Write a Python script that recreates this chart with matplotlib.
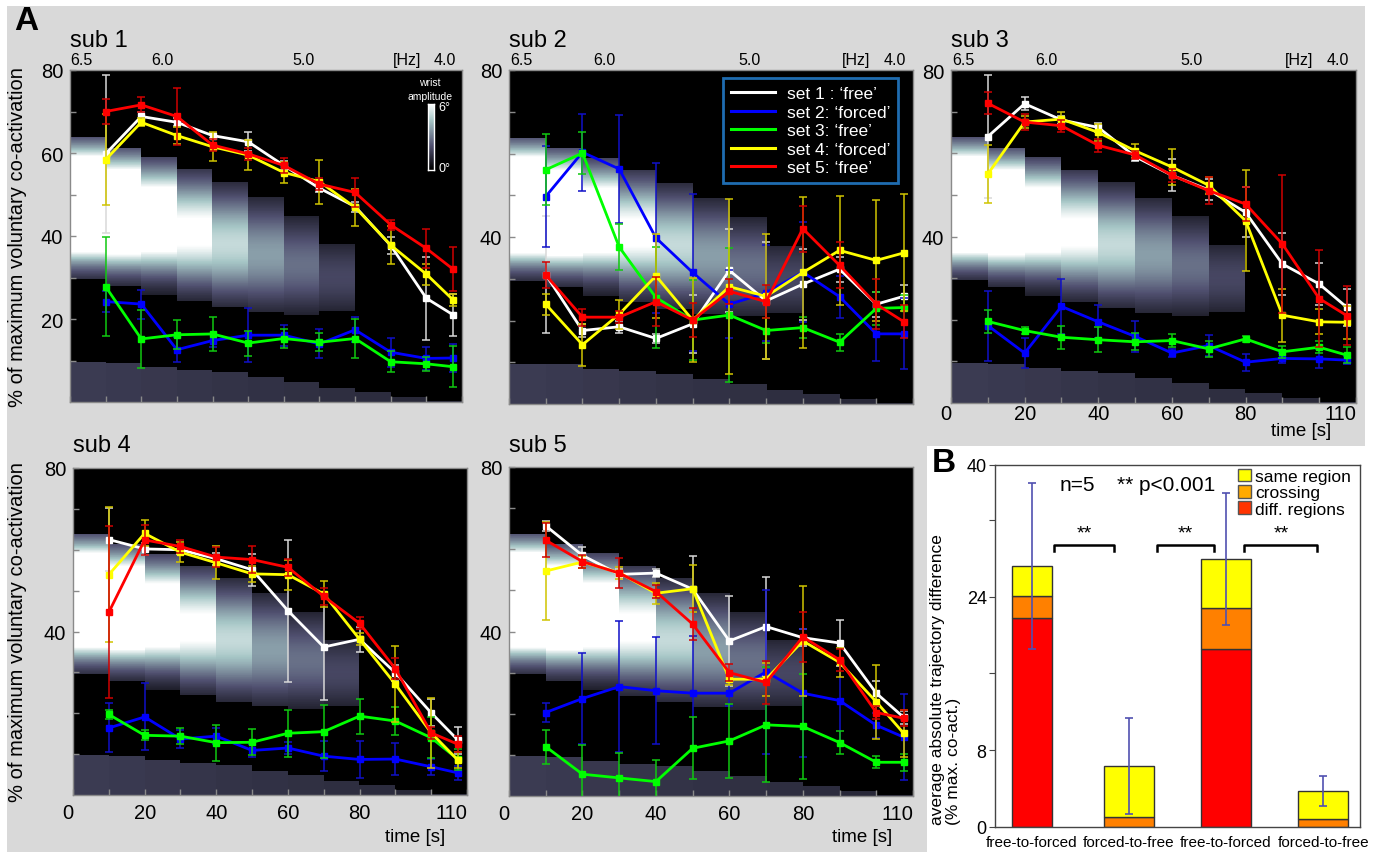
import numpy as np
import matplotlib.pyplot as plt
from matplotlib.patches import Polygon, Patch
from matplotlib.lines import Line2D

plt.rcParams['font.family'] = ['Liberation Sans', 'DejaVu Sans']

# ---------------- data ----------------
t = [10, 20, 30, 40, 50, 60, 70, 80, 90, 100, 107.5]
set_labels = ["set 1 : \u2018free\u2019", "set 2: \u2018forced\u2019", "set 3: \u2018free\u2019",
              "set 4: \u2018forced\u2019", "set 5: \u2018free\u2019"]
set_colors = ['#ffffff', '#0000ff', '#00ff00', '#ffff00', '#ff0000']
err_colors = ['#d8d8d8', '#1010c8', '#10c810', '#d0c400', '#d00000']

# order of rows: set1 white, set2 blue, set3 green, set4 yellow, set5 red
sub1_mean = [[59.8, 68.8, 67.4, 64.2, 62.7, 57.0, 51.5, 47.1, 37.7, 25.0, 21.0],
             [24.2, 23.6, 12.6, 14.8, 16.1, 16.1, 14.0, 17.4, 12.0, 10.5, 10.6],
             [27.8, 15.2, 16.2, 16.4, 14.2, 15.3, 14.4, 15.3, 9.7, 9.2, 8.5],
             [58.4, 67.4, 64.2, 61.5, 59.5, 55.3, 53.1, 46.9, 37.8, 30.8, 24.6],
             [70.0, 71.6, 68.8, 61.9, 59.8, 57.0, 52.5, 50.5, 42.7, 37.0, 32.0]]
sub1_err = [[19, 1, 1, 0.7, 2.3, 1, 1, 1.2, 2, 10, 5],
            [2.6, 3.5, 3, 1.5, 6.5, 2.5, 3.5, 3, 3.5, 2.7, 3.4],
            [12, 7, 3.5, 4, 3, 2.3, 2.2, 4.7, 2.5, 1.7, 4.9],
            [11, 1, 2, 3.5, 3.7, 2.5, 5.3, 4.5, 4.5, 2.5, 1.5],
            [3, 1.8, 6.8, 1.5, 1.5, 1.7, 1.5, 3.5, 1.2, 4.7, 5.3]]

sub2_mean = [[31.0, 17.6, 18.5, 15.7, 19.2, 32.0, 24.7, 28.7, 32.3, 23.9, 25.8],
             [49.7, 60.3, 56.3, 39.8, 31.5, 23.9, 26.6, 31.6, 25.7, 16.8, 16.8],
             [56.1, 60.1, 37.6, 25.5, 20.1, 21.3, 17.6, 18.3, 14.8, 22.9, 23.1],
             [23.9, 14.2, 21.5, 30.7, 20.1, 28.1, 25.8, 31.5, 36.8, 34.4, 36.2],
             [30.9, 20.8, 20.8, 24.5, 20.1, 27.0, 24.5, 42.0, 33.2, 23.9, 19.7]]
sub2_err = [[14, 1.5, 1.5, 1, 7, 10, 14, 8.5, 3, 3, 2.8],
            [12, 9.2, 13, 18, 18.8, 8.2, 11.6, 12, 5, 6.5, 8.5],
            [8.5, 5, 5.4, 12, 9.5, 16, 3, 2.5, 2, 4, 3],
            [2.5, 5, 3.5, 10, 10, 21, 15, 18, 13, 14.5, 14],
            [3, 2, 1.5, 5.8, 4, 3, 4, 5.5, 5.5, 6, 4]]

sub3_mean = [[64.0, 71.9, 68.0, 66.2, 59.2, 54.7, 51.2, 45.8, 33.4, 28.6, 23.0],
             [18.6, 12.0, 23.2, 19.5, 16.0, 12.0, 13.8, 9.8, 10.7, 10.6, 10.3],
             [19.6, 17.4, 15.8, 15.2, 14.7, 15.0, 13.0, 15.4, 12.3, 13.4, 11.5],
             [55.0, 67.5, 68.2, 65.0, 60.6, 56.7, 52.3, 43.8, 21.1, 19.5, 19.4],
             [72.0, 67.5, 66.6, 61.9, 59.6, 54.7, 51.0, 47.8, 38.2, 25.1, 21.0]]
sub3_err = [[14.7, 1.5, 1, 1, 1, 3.8, 2.5, 6, 7.5, 5, 4.5],
            [8.4, 3.7, 6.7, 4, 3.8, 1, 2.5, 2, 1.2, 2.3, 1],
            [2.8, 0.8, 2.8, 3, 2, 1.6, 2, 0.8, 1.5, 1.5, 2],
            [7, 1.5, 1.8, 2, 1.7, 4.4, 2, 12.2, 6.4, 3, 4],
            [2.6, 2, 1.5, 1.5, 1, 1.5, 3.2, 4, 16.6, 11.7, 7]]

sub4_mean = [[62.5, 60.2, 60.0, 57.8, 55.1, 45.1, 36.2, 38.1, 29.9, 20.1, 13.4],
             [16.4, 19.1, 13.7, 14.4, 10.9, 11.5, 9.5, 8.7, 8.8, 6.9, 5.4],
             [19.7, 14.6, 14.4, 12.8, 12.9, 15.1, 15.5, 19.3, 18.1, 14.0, 8.7],
             [53.9, 64.0, 59.4, 56.8, 54.1, 53.9, 49.2, 38.1, 27.1, 15.2, 8.5],
             [44.7, 62.4, 60.8, 58.2, 57.6, 55.7, 48.6, 42.0, 30.9, 15.2, 12.4]]
sub4_err = [[7.7, 1.5, 1, 1.5, 3.9, 17.4, 13, 3, 2, 3.3, 3.3],
            [6, 8.2, 2.3, 2, 1.5, 1.5, 3.6, 4.6, 3.9, 2, 1.8],
            [1.2, 1.2, 2, 4.4, 3.2, 5.8, 6.5, 4.3, 3.5, 5, 2.5],
            [16.5, 3.2, 2.4, 4, 2, 3.7, 3.2, 1.5, 9.3, 8.6, 2],
            [21, 3.7, 1.5, 2.5, 3.2, 2, 2, 1.5, 2.5, 1.5, 2]]

sub5_mean = [[65.7, 58.5, 53.9, 54.2, 50.3, 37.7, 41.2, 38.5, 37.2, 25.0, 19.1],
             [20.3, 23.7, 26.6, 25.6, 25.0, 25.0, 30.2, 25.0, 23.2, 17.2, 14.3],
             [12.0, 5.3, 4.4, 3.5, 11.6, 13.4, 17.3, 16.9, 13.0, 8.2, 8.2],
             [54.7, 56.9, 54.3, 49.3, 50.4, 28.4, 28.4, 37.7, 32.5, 22.9, 15.2],
             [62.2, 57.0, 54.2, 49.7, 41.8, 30.0, 27.6, 38.7, 33.1, 20.3, 18.9]]
sub5_err = [[1.2, 2, 1.2, 1, 8, 11, 12, 2, 5.7, 3, 1.5],
            [2.3, 11, 16, 13, 14, 3, 20, 15.6, 9.9, 3, 10.5],
            [4.1, 7, 6, 5.3, 7.5, 9, 14, 12.8, 2.8, 1.5, 2],
            [12, 1.5, 1.5, 2.5, 5.7, 1.5, 4, 13.4, 3.5, 9, 5.8],
            [4.2, 1.5, 3.6, 1.5, 3.8, 2, 5.2, 6, 2.6, 1.5, 2]]

# wrist amplitude background (one column per 10 s bin)
band_lo = [29.6, 28.0, 25.8, 24.4, 22.9, 21.7, 21.0, 21.9, 0, 0, 0]
band_hi = [63.9, 61.4, 59.0, 56.0, 53.0, 49.4, 44.9, 37.9, 0, 0, 0]
band_mid = [47.7, 45.8, 44.0, 41.0, 38.0, 35.5, 33.0, 30.0, 0, 0, 0]
band_w = [11.3, 11.5, 11.8, 12.5, 12.5, 12.5, 11.5, 10.0, 1, 1, 1]
band_peak = [17.0, 13.2, 9.2, 6.4, 5.0, 3.7, 2.8, 1.9, 0, 0, 0]
floor_hi = [9.7, 9.4, 8.4, 7.8, 7.3, 5.9, 4.8, 3.4, 2.4, 1.2, 0.3]
floor_level = [1.6, 1.55, 1.5, 1.45, 1.4, 1.35, 1.3, 1.25, 1.2, 1.1, 1.0]

freq_labels = ['6.5', '6.0', '5.0', '[Hz]', '4.0']
freq_pos = [0.03, 0.235, 0.595, 0.86, 0.955]

# panel B
bar_labels = ['free-to-forced', 'forced-to-free', 'free-to-forced', 'forced-to-free']
diff_regions = [21.8, 0.0, 18.5, 0.0]
crossing = [2.3, 1.05, 4.3, 0.84]
same_region = [3.1, 5.35, 5.1, 2.92]
bar_err = [8.65, 5.0, 6.9, 1.55]
bracket_spans = [(1.23, 1.845), (2.29, 2.88), (3.19, 3.94)]

# ---------------- figure ----------------
W, H = 1389, 854
fig = plt.figure(figsize=(W / 100, H / 100), dpi=100)
fig.patch.set_facecolor('white')

bg = np.array([(7, 7), (1365, 7), (1365, 447), (927, 447), (927, 853), (7, 853)], float)
bg[:, 0] /= W
bg[:, 1] = 1 - bg[:, 1] / H
fig.patches.append(Polygon(bg, closed=True, transform=fig.transFigure,
                           facecolor='#d9d9d9', edgecolor='none', zorder=-10))

yy = np.linspace(0, 80, 801)
img = np.zeros((len(yy), len(band_lo)))
for c in range(len(band_lo)):
    ins = (yy >= band_lo[c]) & (yy <= band_hi[c])
    img[ins, c] = band_peak[c] * np.exp(-((yy[ins] - band_mid[c]) / band_w[c]) ** 2)
    low = yy <= floor_hi[c]
    img[low, c] = np.maximum(img[low, c], floor_level[c])


def px_axes(l, t_, r, b):
    return fig.add_axes([l / W, 1 - b / H, (r - l) / W, (b - t_) / H])


def draw_sub(ax, means, errs, name, top_row, xlabels, ylabels, xpad, name_y):
    ax.set_facecolor('black')
    ax.imshow(img, extent=(0, 110, 0, 80), origin='lower', aspect='auto', cmap='bone',
              vmin=0, vmax=6, interpolation='nearest', zorder=0)
    for k in range(5):
        ax.errorbar(t, means[k], yerr=errs[k], color=set_colors[k], ecolor=err_colors[k],
                    lw=2, marker='s', ms=5, mec=set_colors[k], elinewidth=1.1,
                    capsize=3, capthick=1.1, zorder=3 + k)
    ax.set_xlim(0, 110)
    ax.set_ylim(0, 80)
    ax.set_yticks(ylabels)
    ax.set_yticks([v for v in range(10, 80, 10) if v not in ylabels], minor=True)
    ax.set_xticks([0, 20, 40, 60, 80, 110])
    ax.set_xticks([10, 30, 50, 70, 90, 100], minor=True)
    ax.tick_params(which='both', direction='in', length=4, color='#8a8a8a', width=1,
                   labelsize=14.5, pad=5)
    ax.tick_params(axis='x', pad=xpad)
    if not xlabels:
        ax.set_xticklabels([])
    else:
        xl = ax.get_xticklabels()
        xl[0].set_ha('right')
        xl[-1].set_ha('right')
    for s in ax.spines.values():
        s.set_color('#8a8a8a')
        s.set_linewidth(1)
    ax.text(0.0, name_y, name, transform=ax.transAxes, ha='left', va='baseline', fontsize=17)
    if top_row:
        for lab, xf in zip(freq_labels, freq_pos):
            ax.text(xf, 1.01, lab, transform=ax.transAxes, ha='center', va='bottom',
                    fontsize=11.5)


ax1 = px_axes(70, 71, 462, 403)
ax2 = px_axes(509, 71, 913, 405)
ax3 = px_axes(951, 71, 1356, 404)
ax4 = px_axes(73, 469, 467, 796)
ax5 = px_axes(509, 468, 913, 797)

draw_sub(ax1, sub1_mean, sub1_err, 'sub 1', True, False, [20, 40, 60, 80], 6, 1.072)
draw_sub(ax2, sub2_mean, sub2_err, 'sub 2', True, False, [40, 80], 6, 1.072)
draw_sub(ax3, sub3_mean, sub3_err, 'sub 3', True, True, [40, 80], 1, 1.072)
draw_sub(ax4, sub4_mean, sub4_err, 'sub 4', False, True, [40, 80], 6, 1.052)
draw_sub(ax5, sub5_mean, sub5_err, 'sub 5', False, True, [40, 80], 6, 1.048)

for ax, lx in [(ax1, -0.11), (ax4, -0.117)]:
    ax.set_ylabel('% of maximum voluntary co-activation', fontsize=14.5)
    ax.yaxis.set_label_coords(lx, 0.5)

for ax, xr, yc in [(ax3, 0.94, -0.084), (ax4, 0.944, -0.128), (ax5, 0.948, -0.122)]:
    ax.text(xr, yc, 'time [s]', transform=ax.transAxes, ha='right', va='center',
            fontsize=13.5)

# colour bar for wrist amplitude
cax = ax1.inset_axes([0.913, 0.699, 0.016, 0.199])
cax.imshow(np.linspace(0, 6, 100)[:, None], cmap='bone', vmin=0, vmax=6, aspect='auto',
           origin='lower')
cax.set_xticks([])
cax.set_yticks([])
for s in cax.spines.values():
    s.set_color('white')
    s.set_linewidth(1)
ax1.text(0.918, 0.965, 'wrist', transform=ax1.transAxes, color='white', ha='center',
         va='center', fontsize=7.5)
ax1.text(0.918, 0.922, 'amplitude', transform=ax1.transAxes, color='white', ha='center',
         va='center', fontsize=7.5)
ax1.text(0.94, 0.89, '6\u00b0', transform=ax1.transAxes, color='white', ha='left',
         va='center', fontsize=9)
ax1.text(0.94, 0.705, '0\u00b0', transform=ax1.transAxes, color='white', ha='left',
         va='center', fontsize=9)

# legend in sub 2
handles = [Line2D([], [], color=c, lw=2.2) for c in set_colors]
leg = ax2.legend(handles, set_labels, loc='upper right', bbox_to_anchor=(0.963, 0.976),
                 borderaxespad=0, facecolor='black', edgecolor='#1f6cb0', framealpha=1,
                 fancybox=False, labelcolor='white', fontsize=12.5,
                 handlelength=2.5, handletextpad=0.7, labelspacing=0.2, borderpad=0.45)
leg.get_frame().set_linewidth(2)
leg.set_zorder(20)

fig.text(14 / W, 1 - 37 / H, 'A', fontsize=24, fontweight='bold', ha='left', va='bottom')
fig.text(932 / W, 1 - 479 / H, 'B', fontsize=24, fontweight='bold', ha='left', va='bottom')

# ---------------- panel B ----------------
axb = px_axes(995, 466, 1360, 828)
xb = np.arange(1, len(bar_labels) + 1)
widths = [0.42, 0.52, 0.52, 0.52]
bottom2 = np.array(diff_regions) + np.array(crossing)
totals = bottom2 + np.array(same_region)
axb.bar(xb, diff_regions, width=widths, color='#ff0000', edgecolor='#333333', lw=1, zorder=2)
axb.bar(xb, crossing, bottom=diff_regions, width=widths, color='#ff8000', edgecolor='#333333',
        lw=1, zorder=2)
axb.bar(xb, same_region, bottom=bottom2, width=widths, color='#ffff00', edgecolor='#333333',
        lw=1, zorder=2)
axb.errorbar(xb, totals, yerr=bar_err, fmt='none', ecolor='#5050b0', elinewidth=1.2,
             capsize=3, capthick=1.2, zorder=3)
for x0, x1 in bracket_spans:
    axb.plot([x0, x0, x1, x1], [28.7, 29.4, 29.4, 28.7], color='black', lw=1.8, zorder=3)
    axb.text((x0 + x1) / 2, 29.7, '**', ha='center', va='bottom', fontsize=14)
axb.set_xlim(0.62, 4.38)
axb.set_ylim(0, 37.7)
axb.set_xticks(xb)
axb.set_xticklabels(bar_labels, fontsize=11)
axb.set_yticks([0, 8, 16, 24, 32, 37.7])
axb.set_yticklabels(['0', '8', '', '24', '', '40'], fontsize=13)
axb.tick_params(axis='x', length=0, pad=6)
axb.tick_params(axis='y', direction='out', length=4, color='#444444', pad=2)
for s in axb.spines.values():
    s.set_color('#444444')
    s.set_linewidth(1)
axb.text(0.225, 0.947, 'n=5', transform=axb.transAxes, ha='center', va='center', fontsize=15)
axb.text(0.468, 0.947, '** p<0.001', transform=axb.transAxes, ha='center', va='center',
         fontsize=15)
axb.text(-0.135, 0.008, 'average absolute trajectory difference\n(% max. co-act.)',
         transform=axb.transAxes, rotation=90, ha='center', va='bottom',
         multialignment='left', fontsize=12.5, linespacing=1.1)
leg_b = [Patch(facecolor='#ffff00', edgecolor='#555555', label='same region'),
         Patch(facecolor='#ffaa00', edgecolor='#555555', label='crossing'),
         Patch(facecolor='#ff3300', edgecolor='#555555', label='diff. regions')]
axb.legend(handles=leg_b, loc='upper left', bbox_to_anchor=(0.665, 0.99), frameon=False,
           fontsize=12.5, handlelength=0.75, handleheight=0.75, handletextpad=0.25,
           labelspacing=0.05, borderpad=0, borderaxespad=0)

fig.savefig('out.png', dpi=100, facecolor='white')
